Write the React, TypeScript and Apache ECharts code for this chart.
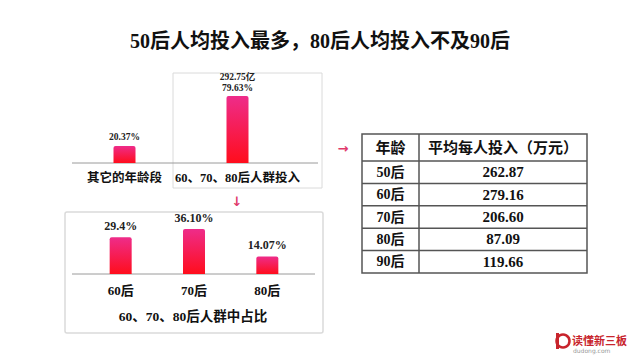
import React, { useEffect, useRef } from "react";
import * as echarts from "echarts";

const titleText = "50后人均投入最多，80后人均投入不及90后";
const topCategories = ["其它的年龄段", "60、70、80后人群投入"];
const topShares = [20.37, 79.63];
const topShareLabels = ["20.37%", "79.63%"];
const topAmountLabel = "292.75亿";
const bottomCategories = ["60后", "70后", "80后"];
const bottomShares = [29.4, 36.1, 14.07];
const bottomShareLabels = ["29.4%", "36.10%", "14.07%"];
const bottomTitle = "60、70、80后人群中占比";
const tableHeaders = ["年龄", "平均每人投入（万元）"];
const tableAges = ["50后", "60后", "70后", "80后", "90后"];
const tableValues = ["262.87", "279.16", "206.60", "87.09", "119.66"];
const logoName = "读懂新三板";
const logoSite = "dudong.com";

const FONT = "'Liberation Serif', 'Noto Sans CJK SC', serif";

export default function App() {
  const ref = useRef<HTMLDivElement>(null);
  useEffect(() => {
    if (!ref.current) return;
    const chart = echarts.init(ref.current, undefined, { renderer: "svg" });
    const barColor = new echarts.graphic.LinearGradient(0, 0, 0, 1, [
      { offset: 0, color: "#ee2c8a" },
      { offset: 1, color: "#ff0d1c" },
    ]);

    // table graphics
    const tX0 = 362, tX1 = 587, tXm = 419, tY0 = 134, tYh = 161, tY1 = 273;
    const rowH = (tY1 - tYh) / tableAges.length;
    const tableEls: any[] = [];
    tableEls.push({
      type: "rect",
      shape: { x: tX0, y: tY0, width: tX1 - tX0, height: tY1 - tY0 },
      style: { fill: "#fff", stroke: "#555", lineWidth: 1.5 },
    });
    tableEls.push({
      type: "line",
      shape: { x1: tXm, y1: tY0, x2: tXm, y2: tY1 },
      style: { stroke: "#555", lineWidth: 1.5 },
    });
    tableEls.push({
      type: "line",
      shape: { x1: tX0, y1: tYh, x2: tX1, y2: tYh },
      style: { stroke: "#555", lineWidth: 1.5 },
    });
    for (let i = 1; i < tableAges.length; i++) {
      tableEls.push({
        type: "line",
        shape: { x1: tX0, y1: tYh + rowH * i, x2: tX1, y2: tYh + rowH * i },
        style: { stroke: "#555", lineWidth: 1.5 },
      });
    }
    tableEls.push({
      type: "text",
      x: (tX0 + tXm) / 2,
      y: (tY0 + tYh) / 2,
      style: { text: tableHeaders[0], font: `bold 15px ${FONT}`, fill: "#111", align: "center", verticalAlign: "middle" },
    });
    tableEls.push({
      type: "text",
      x: (tXm + tX1) / 2,
      y: (tY0 + tYh) / 2,
      style: { text: tableHeaders[1], font: `bold 15px ${FONT}`, fill: "#111", align: "center", verticalAlign: "middle" },
    });
    tableAges.forEach((a, i) => {
      const cy = tYh + rowH * (i + 0.5);
      tableEls.push({
        type: "text",
        x: (tX0 + tXm) / 2,
        y: cy,
        style: { text: a, font: `bold 14px ${FONT}`, fill: "#111", align: "center", verticalAlign: "middle" },
      });
      tableEls.push({
        type: "text",
        x: (tXm + tX1) / 2,
        y: cy,
        style: { text: tableValues[i], font: `bold 15px ${FONT}`, fill: "#111", align: "center", verticalAlign: "middle" },
      });
    });

    chart.setOption({
      animation: false,
      backgroundColor: "#ffffff",
      title: {
        text: titleText,
        left: "center",
        top: 26,
        textStyle: { fontFamily: FONT, fontSize: 20, fontWeight: "bold", color: "#111" },
      },
      grid: [
        { left: 68, width: 226, top: 79, height: 84 },
        { left: 84, width: 220, top: 224, height: 50 },
      ],
      xAxis: [
        {
          type: "category",
          gridIndex: 0,
          data: topCategories,
          axisLine: { show: false },
          axisTick: { show: false },
          axisLabel: { interval: 0, margin: 9, fontFamily: FONT, fontSize: 12.5, fontWeight: "bold", color: "#111" },
        },
        {
          type: "category",
          gridIndex: 1,
          data: bottomCategories,
          axisLine: { show: false },
          axisTick: { show: false },
          axisLabel: { interval: 0, margin: 10, fontFamily: FONT, fontSize: 13, fontWeight: "bold", color: "#111" },
        },
      ],
      yAxis: [
        { type: "value", gridIndex: 0, min: 0, max: 100, show: false },
        { type: "value", gridIndex: 1, min: 0, max: 40, show: false },
      ],
      series: [
        {
          type: "bar",
          xAxisIndex: 0,
          yAxisIndex: 0,
          data: topShares,
          barWidth: 22,
          itemStyle: { color: barColor, borderRadius: [2, 2, 0, 0] },
          label: {
            show: true,
            position: "top",
            distance: 3,
            fontFamily: FONT,
            fontSize: 9.5,
            fontWeight: "bold",
            color: "#222",
            lineHeight: 11,
            formatter: (p: any) =>
              p.dataIndex === 1 ? `${topAmountLabel}\n${topShareLabels[1]}` : topShareLabels[p.dataIndex],
          },
        },
        {
          type: "bar",
          xAxisIndex: 1,
          yAxisIndex: 1,
          data: bottomShares,
          barWidth: 22,
          itemStyle: { color: barColor, borderRadius: [2, 2, 0, 0] },
          label: {
            show: true,
            position: "top",
            distance: 5,
            fontFamily: FONT,
            fontSize: 12,
            fontWeight: "bold",
            color: "#222",
            formatter: (p: any) => bottomShareLabels[p.dataIndex],
          },
        },
      ],
      graphic: [
        {
          type: "rect",
          shape: { x: 173, y: 73, width: 149, height: 115 },
          style: { fill: "none", stroke: "#dadada", lineWidth: 1 },
        },
        {
          type: "rect",
          shape: { x: 65, y: 212, width: 258, height: 121, r: 2 },
          style: { fill: "none", stroke: "#dadada", lineWidth: 1.5 },
        },
        {
          type: "line",
          shape: { x1: 72, y1: 163, x2: 318, y2: 163 },
          style: { stroke: "#9a9a9a", lineWidth: 1 },
        },
        {
          type: "line",
          shape: { x1: 72, y1: 274, x2: 315, y2: 274 },
          style: { stroke: "#9a9a9a", lineWidth: 1 },
        },
        {
          type: "text",
          x: 193,
          y: 316,
          style: { text: bottomTitle, font: `bold 13.5px ${FONT}`, fill: "#111", align: "center", verticalAlign: "middle" },
        },
        {
          type: "text",
          x: 237,
          y: 201,
          style: { text: "↓", font: "bold 13px 'DejaVu Sans'", fill: "#e0386a", align: "center", verticalAlign: "middle" },
        },
        {
          type: "text",
          x: 343,
          y: 148,
          style: { text: "→", font: "bold 13px 'DejaVu Sans'", fill: "#e0386a", align: "center", verticalAlign: "middle" },
        },
        ...tableEls,
        {
          type: "circle",
          shape: { cx: 563, cy: 341, r: 6.5 },
          style: { fill: "none", stroke: "#c8242c", lineWidth: 2.5 },
        },
        {
          type: "rect",
          shape: { x: 556, y: 333, width: 3, height: 16 },
          style: { fill: "#c8242c" },
        },
        {
          type: "text",
          x: 572,
          y: 340,
          style: { text: logoName, font: "bold 11px 'Noto Sans CJK SC'", fill: "#c8242c", align: "left", verticalAlign: "middle" },
        },
        {
          type: "text",
          x: 573,
          y: 350,
          style: { text: logoSite, font: "6px 'DejaVu Sans'", fill: "#999", align: "left", verticalAlign: "middle" },
        },
      ],
    });
    return () => chart.dispose();
  }, []);
  return (
    <div
      ref={ref}
      style={{ position: "fixed", left: 0, top: 0, width: 640, height: 360, background: "#fff" }}
    />
  );
}
